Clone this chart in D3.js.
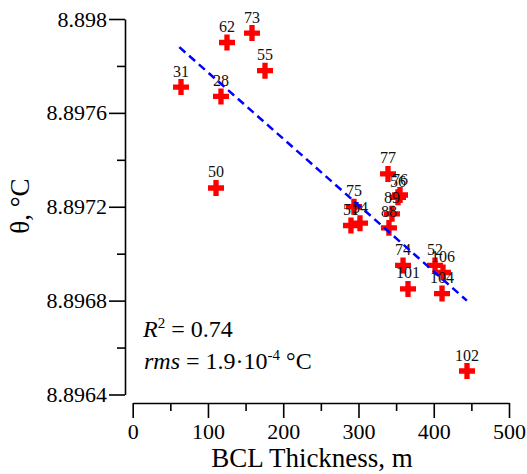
<!DOCTYPE html>
<html>
<head>
<meta charset="utf-8">
<script src="https://cdn.jsdelivr.net/npm/d3@7"></script>
</head>
<body style="margin:0;background:#fff">
<svg id="chart" width="527" height="474" style="display:block"></svg>
<script>
// ---- data ----
const pointLabels = ["31","28","62","73","55","50","75","51","54","77","76","56","89","88","74","101","52","106","104","102"];
const thickness   = [64.2, 117.3, 125.3, 158.5, 175.8, 110.7, 294, 290, 302, 339.2, 355.2, 352.5, 344.5, 340.5, 359.2, 365.8, 401.7, 412.3, 411, 444.2];
const theta       = [8.89771, 8.89767, 8.89790, 8.89794, 8.89778, 8.89728, 8.89720, 8.89712, 8.89713, 8.89734, 8.89725, 8.89724, 8.89717, 8.89711, 8.89695, 8.89685, 8.89695, 8.89692, 8.89683, 8.89650];
const fitX = [62, 444];
const fitY = [8.89788, 8.89680];
const xTicks = [0, 100, 200, 300, 400, 500];
const xMinorTicks = [50, 150, 250, 350, 450];
const yTicks = [8.8964, 8.8968, 8.8972, 8.8976, 8.898];
const yMinorTicks = [8.8966, 8.897, 8.8974, 8.8978];

const FONT = '"Liberation Serif"';
const svg = d3.select("#chart");
const x = d3.scaleLinear().domain([0, 500]).range([132.7, 509]);
const y = d3.scaleLinear().domain([8.8964, 8.898]).range([394.5, 19]);

const yAxisX = 125, xAxisY = 403;

// Y axis
const gy = svg.append("g").attr("transform", `translate(${yAxisX},0)`);
gy.call(d3.axisLeft(y).tickValues(yTicks).tickSize(16).tickSizeOuter(0)
  .tickFormat(d => d3.format("")(+d.toFixed(4))));
gy.append("g").call(d3.axisLeft(y).tickValues(yMinorTicks).tickSize(8).tickSizeOuter(0).tickFormat(""))
  .select(".domain").remove();
gy.selectAll("text").attr("font-size", 22).attr("fill", "#000").attr("x", -18);

// X axis
const gx = svg.append("g").attr("transform", `translate(0,${xAxisY})`);
gx.call(d3.axisBottom(x).tickValues(xTicks).tickSize(15).tickSizeOuter(0));
gx.append("g").call(d3.axisBottom(x).tickValues(xMinorTicks).tickSize(8).tickSizeOuter(0).tickFormat(""))
  .select(".domain").remove();
gx.selectAll("text").attr("font-size", 22).attr("fill", "#000").attr("y", 20).attr("dy", "0.71em");

svg.selectAll(".domain, .tick line").attr("stroke", "#000").attr("stroke-width", 1.6);

// Axis titles
svg.append("text").attr("x", 312).attr("y", 467).attr("text-anchor", "middle")
  .attr("font-size", 27).text("BCL Thickness, m");
svg.append("text").attr("transform", "translate(29,206) rotate(-90)").attr("text-anchor", "middle")
  .attr("font-size", 27).text("θ, °C");

// Points
const pts = pointLabels.map((l, i) => ({ label: l, x: thickness[i], y: theta[i] }));
const cross = d3.symbol().type(d3.symbolCross).size(142);
svg.append("g").selectAll("path").data(pts).join("path")
  .attr("d", cross)
  .attr("transform", d => `translate(${x(d.x)},${y(d.y)})`)
  .attr("fill", "#ff0000");

svg.append("g").selectAll("text").data(pts).join("text")
  .attr("x", d => x(d.x)).attr("y", d => y(d.y) - 10.5)
  .attr("text-anchor", "middle").attr("font-size", 16).attr("fill", "#111")
  .text(d => d.label);

// Fit line
svg.append("line")
  .attr("x1", x(fitX[0])).attr("y1", y(fitY[0]))
  .attr("x2", x(fitX[1])).attr("y2", y(fitY[1]))
  .attr("stroke", "#0000ff").attr("stroke-width", 2.5).attr("stroke-dasharray", "8,5");

// Annotations
const t1 = svg.append("text").attr("x", 143).attr("y", 337).attr("font-size", 24);
t1.append("tspan").style("font-style", "italic").text("R");
t1.append("tspan").attr("font-size", 15).attr("dy", -9).text("2");
t1.append("tspan").attr("dy", 9).text(" = 0.74");

const t2 = svg.append("text").attr("x", 144).attr("y", 369).attr("font-size", 24);
t2.append("tspan").style("font-style", "italic").text("rms");
t2.append("tspan").text(" = 1.9·10");
t2.append("tspan").attr("font-size", 15).attr("dy", -9).text("-4");
t2.append("tspan").attr("dy", 9).text(" °C");

// serif font on every text
svg.selectAll("text, tspan").style("font-family", FONT);
</script>
</body>
</html>
